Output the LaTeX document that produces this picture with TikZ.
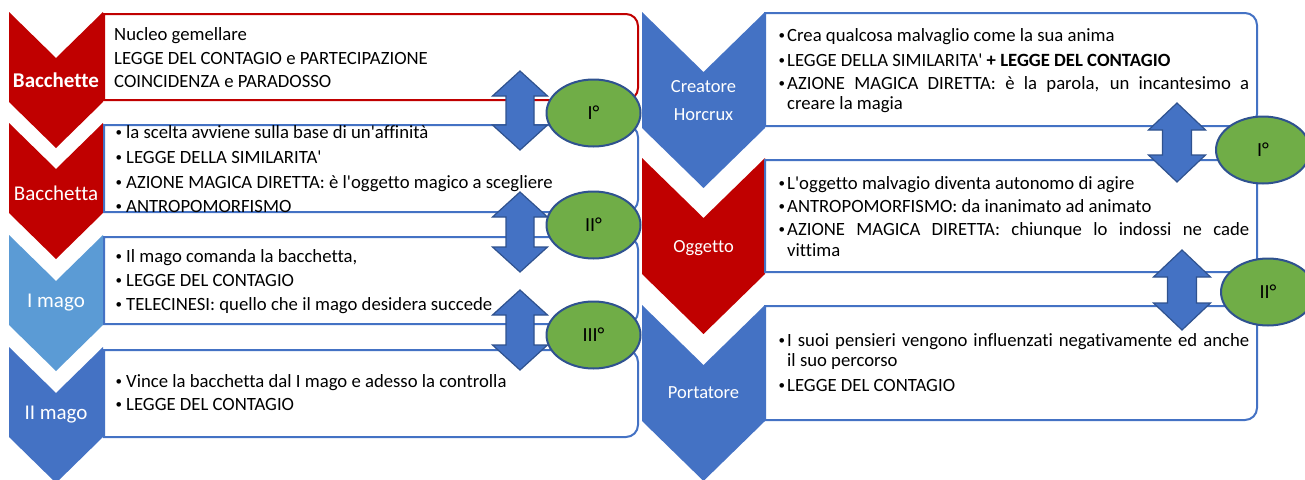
\documentclass[tikz,border=0pt]{standalone}
\usepackage{fontspec}
\setmainfont{Carlito}[Ligatures=NoCommon]
\usetikzlibrary{shapes.geometric}
\definecolor{cred}{HTML}{C00000}
\definecolor{cblue}{HTML}{4472C4}
\definecolor{clight}{HTML}{5B9BD5}
\definecolor{cgreen}{HTML}{70AD47}
\definecolor{cdark}{HTML}{2F528F}
\newcommand\bul{\raisebox{1.8pt}{\fontsize{13}{13}\selectfont\textbullet}}
\newcommand\bitem[2]{\hangindent=#1\hangafter=1\noindent\makebox[#1][l]{\bul}#2\par}
\newcommand\lb{\makebox[10.5pt][l]{\bul}}
\newcommand\chevL[2]{\fill[#2] (9,#1) -- (56,{#1+46}) -- (103,#1) -- (103,{#1+90}) -- (56,{#1+136}) -- (9,{#1+90}) -- cycle;}
\newcommand\chevR[2]{\fill[#2] (642,#1) -- (703.5,{#1+60}) -- (765,#1) -- (765,{#1+116}) -- (703.5,{#1+176}) -- (642,{#1+116}) -- cycle;}
\newcommand\rbox[5]{\draw[boxline=#5] (#1,#2) -- ({#3-12},#2) arc[start angle=-90,end angle=0,radius=12] -- (#3,{#4-12}) arc[start angle=0,end angle=90,radius=12] -- (#1,#4) -- cycle;}
\newcommand\dblarr[6]{\draw[dbl] (#1,#2) -- ({#1+#4},{#2+#6}) -- ({#1+#5},{#2+#6}) -- ({#1+#5},{#3-#6}) -- ({#1+#4},{#3-#6}) -- (#1,#3) -- ({#1-#4},{#3-#6}) -- ({#1-#5},{#3-#6}) -- ({#1-#5},{#2+#6}) -- ({#1-#4},{#2+#6}) -- cycle;}
\newcommand\q{\textquotesingle}
\tikzset{
 boxline/.style={draw=#1, line width=2pt, fill=white},
 lbl/.style={text=white, font=\fontsize{21}{26}\selectfont, align=center, inner sep=0pt},
 rlbl/.style={lbl, font=\fontsize{18.5}{28}\selectfont},
 txt/.style={anchor=base west, inner sep=0pt, font=\fontsize{18.7}{20.5}\selectfont, text=black},
 jtxt/.style={txt, text width=470.5pt, align=justify},
 dbl/.style={fill=cblue, draw=cdark, line width=1.2pt},
 deg/.style={ellipse, fill=cgreen, draw=cdark, line width=2pt, minimum width=94pt, minimum height=67pt, inner sep=0pt, font=\fontsize{20}{22}\selectfont}
}
\begin{document}
\begin{tikzpicture}[x=1pt,y=-1pt]
\useasboundingbox (0,0) rectangle (1305,479);
% left chevrons
\chevL{12}{cred}
\chevL{123}{cred}
\chevL{235}{clight}
\chevL{347}{cblue}
% right chevrons
\chevR{12}{cblue}
\chevR{158}{cred}
\chevR{305}{cblue}
% left boxes
\rbox{104}{14}{638}{100}{cred}
\rbox{104}{125}{638}{212}{cblue}
\rbox{104}{237}{638}{324}{cblue}
\rbox{104}{350}{638}{437}{cblue}
% right boxes
\rbox{765}{13}{1257}{126}{cblue}
\rbox{765}{160}{1257}{272}{cblue}
\rbox{765}{306}{1257}{420}{cblue}
% chevron labels
\node[lbl] (l1) at (56,80) {\bfseries Bacchette};
\node[lbl] (l2) at (56,193) {Bacchetta};
\node[lbl] (l3) at (56,303) {I mago};
\node[lbl] (l4) at (56,415) {II mago};
\node[rlbl] (r1) at (703.5,101) {Creatore\\Horcrux};
\node[rlbl] (r2) at (703.5,248) {Oggetto};
\node[rlbl] (r3) at (703.5,393) {Portatore};
% left box texts
\node[txt] (t11) at (114,40) {Nucleo gemellare};
\node[txt] (t12) at (114,64) {LEGGE DEL CONTAGIO e PARTECIPAZIONE};
\node[txt] (t13) at (114,87) {COINCIDENZA e PARADOSSO};
\node[txt] (t21) at (115.5,138) {\lb la scelta avviene sulla base di un\q affinità};
\node[txt] (t22) at (115.5,163) {\lb LEGGE DELLA SIMILARITA\q};
\node[txt] (t23) at (115.5,188) {\lb AZIONE MAGICA DIRETTA: è l\q oggetto magico a scegliere};
\node[txt] (t24) at (115.5,212) {\lb ANTROPOMORFISMO};
\node[txt] (t31) at (115.5,262) {\lb Il mago comanda la bacchetta,};
\node[txt] (t32) at (115.5,286) {\lb LEGGE DEL CONTAGIO};
\node[txt] (t33) at (115.5,310) {\lb TELECINESI: quello che il mago desidera succede};
\node[txt] (t41) at (115.5,387) {\lb Vince la bacchetta dal I mago e adesso la controlla};
\node[txt] (t42) at (115.5,410) {\lb LEGGE DEL CONTAGIO};
% right box texts
\node[jtxt] (u11) at (778.5,41) {\bitem{8.5pt}{Crea qualcosa malvaglio come la sua anima}};
\node[jtxt] (u12) at (778.5,66) {\bitem{8.5pt}{LEGGE DELLA SIMILARITA\q{} \textbf{+ LEGGE DEL CONTAGIO}}};
\node[jtxt] (u13) at (778.5,89) {\bitem{8.5pt}{AZIONE MAGICA DIRETTA: è la parola, un incantesimo a\linebreak creare la magia}};
\node[jtxt] (u21) at (778.5,189) {\bitem{8.5pt}{L\q oggetto malvagio diventa autonomo di agire}};
\node[jtxt] (u22) at (778.5,212) {\bitem{8.5pt}{ANTROPOMORFISMO: da inanimato ad animato}};
\node[jtxt, font=\fontsize{18.7}{21}\selectfont] (u23) at (778.5,235) {\bitem{8.5pt}{AZIONE MAGICA DIRETTA: chiunque lo indossi ne cade\linebreak vittima}};
\node[jtxt] (u31) at (778.5,346) {\bitem{8.5pt}{I suoi pensieri vengono influenzati negativamente ed anche\linebreak il suo percorso}};
\node[jtxt] (u32) at (778.5,391) {\bitem{8.5pt}{LEGGE DEL CONTAGIO}};
% double arrows
\dblarr{520}{71}{150}{27.5}{14}{25}
\dblarr{520}{192}{272}{27.5}{14}{25}
\dblarr{520}{290}{370}{27.5}{14}{25}
\dblarr{1177}{103}{182}{28.5}{14.5}{27}
\dblarr{1182}{250}{330}{28.5}{14.5}{27}
% ellipses
\node[deg] (e1) at (593.5,113) {I°};
\node[deg] (e2) at (593.5,225) {II°};
\node[deg] (e3) at (593.5,335) {III°};
\node[deg] (e4) at (1263,150) {I°};
\node[deg] (e5) at (1268,292) {II°};
\end{tikzpicture}
\end{document}
